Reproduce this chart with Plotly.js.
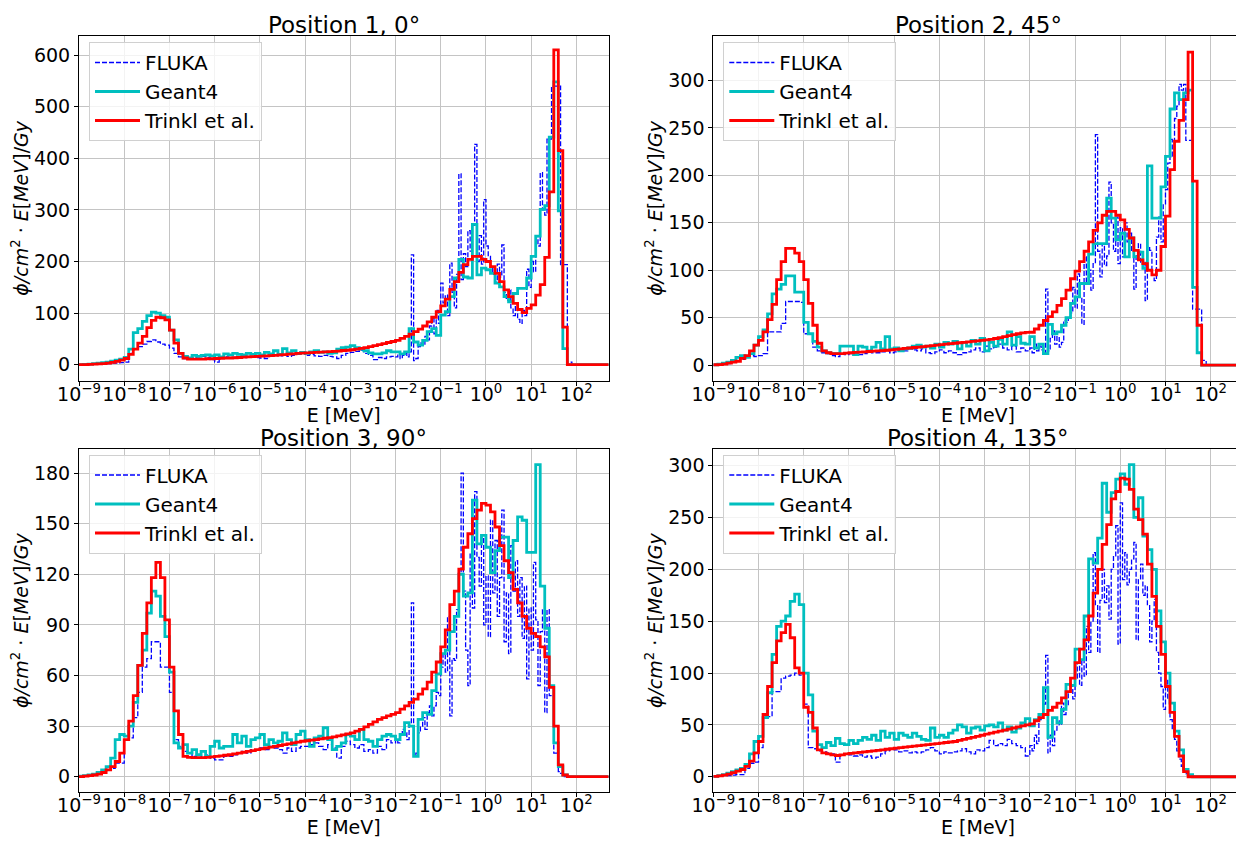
<!DOCTYPE html>
<html>
<head>
<meta charset="utf-8">
<script src="https://cdn.plot.ly/plotly-3.0.1.min.js"></script>
<style>
html,body{margin:0;padding:0;background:#fff;overflow:hidden;width:1236px;height:842px;}
#chart{width:1260px;height:842px;}
</style>
</head>
<body>
<div id="chart"></div>
<script>
// ---------------- DATA ----------------
// Energy binning (log10 of E in MeV)
const LOW_START = -9.0;    // first bin left edge, coarse part
const LOW_BIN = 0.1;       // coarse bin width (decades)
const HIGH_START = -2.0;   // start of the fine part
const HIGH_BIN_MODEL = 0.1; // Geant4 / Trinkl bin width above 10^-2 MeV
const HIGH_BIN_FLUKA = 0.05; // FLUKA bin width above 10^-2 MeV
const X_END_LOG = 3.0;

const seriesNames = ["FLUKA", "Geant4", "Trinkl et al."];
const panelTitles = ["Position 1, 0°", "Position 2, 45°", "Position 3, 90°", "Position 4, 135°"];
const xTickExponents = [-9, -8, -7, -6, -5, -4, -3, -2, -1, 0, 1, 2];
const yTickSteps = [100, 50, 30, 50];
const yRanges = [[-31, 637], [-16.5, 347], [-9.25, 194.25], [-15, 316]];

// ---- Position 1, 0° ----
const fluka1Low = [0,0,0,0.5,1,1,2,3,3,4, 5,22,30,35,40,45,48,44,40,38, 32,22,15,12,12,14,15,16,14,10, 5,15,15,14,14,15,14,16,15,14, 13,12,16,18,17,20,16,18,20,22, 18,20,17,16,18,16,15,12,18,22, 24,26,28,22,18,10,14,12,15,16];
const fluka1High = [15,20,12,18,22,15,25,213,8,12, 35,42,38,55,48,75,90,60,105,80, 158,120,135,95,197,140,110,175,370,165, 215,190,260,220,270,427,200,250,195,320, 230,210,190,175,160,195,170,232,140,125, 145,110,95,120,88,80,105,95,185,150, 200,180,250,230,372,300,290,437,437,540, 540,540,540,194,194,194,5,5];
const geant1Low = [0,0.5,1,2,3,4,5,7,9,11, 14,30,62,70,84,95,102,100,95,92, 67,48,22,16,13,18,16,18,19,17, 19,15,21,19,22,20,19,22,20,22, 19,24,21,27,20,31,23,27,22,24, 22,25,27,24,25,22,23,30,33,34, 37,33,30,27,23,21,21,23,27,25];
const geant1High = [25,21,25,70,44,38,47,64,70,57, 96,103,132,168,204,170,168,272,174,187, 184,177,158,151,132,122,138,148,148,168, 210,249,301,308,441,548,298,31];
const trinkl1Low = [0,0,0.5,1,1.5,2,3,4.5,6.5,9, 12,20,30,42,55,72,86,92,91,87, 67,42,22,13,11,11,11,11,11.5,11.5, 12,12.5,13,13,13.5,14,14.5,15,15.5,16, 16.5,17,17.5,18,19,19.5,20.5,21,22,22.5, 23,23.5,24,24.5,25,25.5,26,26.5,27.5,28, 29,30,31.5,33,35,37,39,41,43,45];
const trinkl1High = [47,51,55,59,64,69,75,83,92,103, 114,127,146,161,179,194,204,210,210,204, 200,190,177,161,145,132,119,107,101,109, 116,135,155,208,335,610,415,73];

// ---- Position 2, 45° ----
const fluka2Low = [0,0.5,1,1.5,3,4,6,8,10,9, 10,12,35,35,35,44,67,67,67,66, 33,33,19,15,13,12,10,9,12,11, 12,13,11,12,14,13,13,14,15,13, 14,16,15,17,16,15,17,13,12,14, 16,13,15,13,11,13,14,16,18,14, 20,17,19,22,18,16,20,14,18,15];
const fluka2High = [18,13,22,15,20,16,12,80,15,28, 36,22,30,19,24,47,45,50,55,82, 60,96,72,43,114,85,100,79,107,243, 120,93,128,105,115,193,150,120,156,107, 145,114,150,130,139,120,80,115,128,107, 110,68,125,121,95,89,135,156,130,170, 185,213,238,220,260,273,296,290,296,237, 237,237,59,59,59,59,5,5];
const geant2Low = [0.3,1,2,3,5,8,10,8,12,21, 30,37,54,75,80,85,94,94,77,77, 45,33,25,19,15,13,12,12,20,20, 20,11,20,19,15,19,24,17,30,17, 18,15,17,18,20,21,19,20,18,22, 19,24,22,25,17,24,20,26,22,28, 15,24,20,27,22,35,21,30,23,22];
const geant2High = [30,18,22,12,43,33,35,42,50,65, 72,86,86,117,128,128,128,176,155,132, 139,114,134,114,119,102,210,155,155,188, 220,270,287,280,287,290,82,13];
const trinkl2Low = [0.3,0.5,1,2,3,4,7,10,15,21, 26,35,48,64,90,109,123,123,118,109, 90,65,42,23,15,13,12,12,12,12.5, 13,13.3,13.6,14,14.3,14.6,15,15.3,15.6,16, 16.5,17,17.5,18,18.5,19,19.5,20,20.5,21, 21.5,22,22.5,23,23.5,24,24.5,25,25.5,26, 26.5,27,28,29,30,31,32,33,34,34.5];
const trinkl2High = [34.6,38,42,47,51,56,63,70,79,91, 99,109,120,130,142,150,158,162,162,158, 153,143,134,121,111,107,100,95,100,125, 157,206,236,258,280,330,194,42];

// ---- Position 3, 90° ----
const fluka3Low = [0.2,0.5,1,1.5,2,3,4,5,8,8, 22,23,35,50,65,70,80,80,65,65, 50,22,18,15,14,12,13,12,13,11, 10,10,12,12,13,14,15,14,16,16, 17,16,18,17,16,14,17,15,17,18, 18,19,20,18,16,19,17,11,18,21, 19,17,19,15,16,14,18,16,22,20];
const fluka3High = [22,20,25,28,26,22,30,103,12,14, 26,30,35,28,38,42,36,42,50,48, 65,73,62,95,36,70,69,99,120,180, 110,75,54,133,100,169,130,113,142,90, 119,83,152,109,140,95,118,158,80,109, 73,137,110,128,95,118,82,113,58,100, 75,127,93,54,86,99,38,99,48,48, 14,14,3,2];
const geant3Low = [0.3,0.6,1,1.5,2.5,4,6,11,22,25, 24,30,44,66,75,97,110,107,95,83, 62,20,17,19,14,16,13,15,12,18, 21,17,18,18,25,20,24,18,22,23, 25,19,22,20,21,26,22,19,25,27, 22,18,23,24,29,22,16,18,20,25, 24,22,28,22,21,18,22,24,25,24];
const geant3High = [22,25,32,30,12,34,38,37,51,61, 73,75,86,95,120,107,109,164,138,143, 136,121,134,142,142,118,140,154,152,133, 133,185,113,88,54,20,6,1];
const trinkl3Low = [0,0.3,0.6,1,1.5,2.5,4,6,9,14, 22,33,48,66,85,103,118,127,118,93, 65,39,25,12,11.5,11.3,11.3,11.3,11.5,11.7, 12,12.3,12.7,13,13.5,14,14.5,15,15.5,16, 16.5,17,17.5,18,18.5,19,19.5,20,20.5,21, 21.3,21.7,22,22.4,22.8,23.2,23.6,24.2,24.8,25.4, 26,27,28,29.5,31,32.5,34,35,36,37];
const trinkl3High = [38,40,42,44,46,49,52,56,62,68, 77,87,102,110,123,136,144,153,158,162, 161,157,148,137,128,121,111,103,95,88, 85,83,77,71,53,30,7,1];

// ---- Position 4, 135° ----
const fluka4Low = [0.2,0.5,1,1,1.5,2,2,8,13,14, 28,58,58,82,82,95,97,98,100,98, 70,28,27,25,24,23,22,14,21,22, 21,20,21,19,20,18,19,22,25,27, 26,24,25,23,24,23,24,26,28,25, 22,24,23,24,25,27,24,22,26,25, 28,35,30,32,30,36,32,30,28,20];
const fluka4High = [30,25,40,32,55,60,70,117,23,40, 30,45,55,50,71,60,68,82,88,75, 95,110,88,113,97,145,120,150,216,165, 120,170,200,168,184,152,200,213,242,128, 264,190,216,185,200,210,226,132,190,205, 175,184,165,130,150,171,120,100,87,65, 94,75,55,45,36,25,17,10,7,3, 1];
const geant4Low = [0.3,1,2,3.5,5,6.5,8,12,22,34, 39,57,81,118,145,150,155,169,176,166, 100,79,44,31,28,33,30,37,32,31, 35,32,35,38,36,40,35,44,38,42, 36,42,40,38,42,39,36,35,47,38, 40,38,42,45,50,48,42,47,48,45, 49,50,48,52,45,48,43,47,52,56];
const geant4High = [49,55,60,86,38,57,52,65,89,88, 123,113,155,210,206,230,283,255,274,287, 292,282,301,250,269,232,219,200,160,130, 100,71,44,26,7,2];
const trinkl4Low = [0.3,0.8,1.5,2.5,4,5.5,7,10,15,23, 34,60,87,110,131,139,147,134,105,100, 67,62,47,26,23,22,21,20.5,21,22, 22.5,23,23.5,24,24.5,25,25.5,26,26.5,27, 27.5,28,28.5,29,29.5,30,30.5,31,31.5,32, 32.5,33,33.5,34,35,36,37,38,39,40, 41,42,43,44,45,46,47,48,49,50];
const trinkl4High = [51,54,57,60,64,67,71,76,82,95, 110,123,132,155,177,200,224,243,268,275, 288,287,277,258,248,234,205,174,145,118, 87,62,39,20,5];

const panels = [
  {fl: fluka1Low, fh: fluka1High, gl: geant1Low, gh: geant1High, tl: trinkl1Low, th: trinkl1High},
  {fl: fluka2Low, fh: fluka2High, gl: geant2Low, gh: geant2High, tl: trinkl2Low, th: trinkl2High},
  {fl: fluka3Low, fh: fluka3High, gl: geant3Low, gh: geant3High, tl: trinkl3Low, th: trinkl3High},
  {fl: fluka4Low, fh: fluka4High, gl: geant4Low, gh: geant4High, tl: trinkl4Low, th: trinkl4High}
];

// ---------------- BUILD ----------------
function stepXY(lowVals, highVals, highBin) {
  const xs = [], ys = [];
  lowVals.forEach((v, i) => { xs.push(Math.pow(10, LOW_START + i * LOW_BIN)); ys.push(v); });
  highVals.forEach((v, i) => { xs.push(Math.pow(10, HIGH_START + i * highBin)); ys.push(v); });
  xs.push(Math.pow(10, HIGH_START + highVals.length * highBin)); ys.push(0);
  xs.push(Math.pow(10, X_END_LOG)); ys.push(0);
  return {xs, ys};
}

const W = 1260, H = 842;
const FONT = "DejaVu Sans, Liberation Sans, sans-serif";
const xDom = [[79 / W, 608.5 / W], [713.3 / W, 1242.8 / W]];
const yDom = [[1 - 380.7 / H, 1 - 36 / H], [1 - 792.3 / H, 1 - 449 / H]];
const legendTop = [42, 454.5];

const colors = {fluka: "#0000ff", geant: "#00bfbf", trinkl: "#ff0000"};
const traces = [];
const layout = {
  width: W, height: H,
  margin: {l: 0, r: 0, t: 0, b: 0},
  paper_bgcolor: "#ffffff", plot_bgcolor: "#ffffff",
  font: {family: FONT, size: 18, color: "#000000"},
  showlegend: true,
  annotations: []
};

const ytitle = "<i>ϕ/cm</i><sup>2</sup> · <i>E</i>[<i>MeV</i>]/<i>Gy</i>";
const xTickVals = xTickExponents.map(e => Math.pow(10, e));
const xTickText = xTickExponents.map(e => "10<sup>" + (e < 0 ? "\u2212" + (-e) : String(e)) + "</sup>");

panels.forEach((p, idx) => {
  const n = idx + 1;
  const col = idx % 2, row = Math.floor(idx / 2);
  const xa = n === 1 ? "x" : "x" + n;
  const ya = n === 1 ? "y" : "y" + n;
  const lg = n === 1 ? "legend" : "legend" + n;
  const f = stepXY(p.fl, p.fh, HIGH_BIN_FLUKA);
  const g = stepXY(p.gl, p.gh, HIGH_BIN_MODEL);
  const t = stepXY(p.tl, p.th, HIGH_BIN_MODEL);
  traces.push({x: f.xs, y: f.ys, xaxis: xa, yaxis: ya, legend: lg, name: seriesNames[0], type: "scatter", mode: "lines",
    line: {shape: "hv", color: colors.fluka, width: 1.3, dash: "5px,2px"}, hoverinfo: "skip"});
  traces.push({x: g.xs, y: g.ys, xaxis: xa, yaxis: ya, legend: lg, name: seriesNames[1], type: "scatter", mode: "lines",
    line: {shape: "hv", color: colors.geant, width: 2.8}, hoverinfo: "skip"});
  traces.push({x: t.xs, y: t.ys, xaxis: xa, yaxis: ya, legend: lg, name: seriesNames[2], type: "scatter", mode: "lines",
    line: {shape: "hv", color: colors.trinkl, width: 2.8}, hoverinfo: "skip"});

  const axCommon = {
    showline: true, linecolor: "#000000", linewidth: 1, mirror: true,
    ticks: "outside", ticklen: 4, tickwidth: 1, tickcolor: "#000000",
    showgrid: true, gridcolor: "#c4c4c4", gridwidth: 1, zeroline: false,
    tickfont: {family: FONT, size: 19, color: "#000000"}
  };
  layout[n === 1 ? "xaxis" : "xaxis" + n] = Object.assign({}, axCommon, {
    type: "log", range: [-9, 2.71], domain: xDom[col], anchor: ya,
    tickmode: "array", tickvals: xTickVals, ticktext: xTickText, tickangle: 0,
    ticklabelstandoff: -8,
    title: {text: "E [MeV]", font: {family: FONT, size: 19}, standoff: 0}
  });
  layout[n === 1 ? "yaxis" : "yaxis" + n] = Object.assign({}, axCommon, {
    range: yRanges[idx], domain: yDom[row], anchor: xa, dtick: yTickSteps[idx], tick0: 0,
    title: {text: ytitle, font: {family: FONT, size: 19}, standoff: 0}
  });
  layout[lg] = {
    x: (xDom[col][0] * W + 10) / W, y: 1 - legendTop[row] / H,
    xanchor: "left", yanchor: "top", itemwidth: 45,
    bgcolor: "rgba(255,255,255,0.8)", bordercolor: "#d0d0d0", borderwidth: 1,
    font: {family: FONT, size: 20, color: "#000000"}
  };
  layout.annotations.push({
    text: panelTitles[idx], showarrow: false, xref: "paper", yref: "paper",
    x: (xDom[col][0] + xDom[col][1]) / 2, y: yDom[row][1], xanchor: "center", yanchor: "bottom",
    yshift: -3, borderpad: 0,
    font: {family: FONT, size: 23, color: "#000000"}
  });
});

Plotly.newPlot("chart", traces, layout, {staticPlot: true, displayModeBar: false});
</script>
</body>
</html>
